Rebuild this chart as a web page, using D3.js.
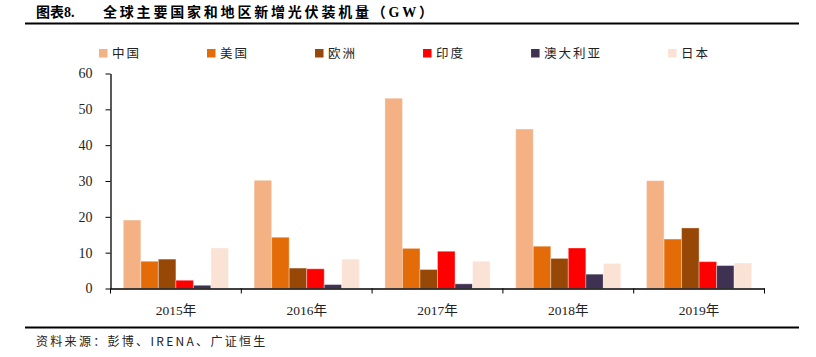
<!DOCTYPE html>
<html><head><meta charset="utf-8">
<script src="https://cdn.jsdelivr.net/npm/d3@7"></script>
<style>
html,body{margin:0;padding:0;background:#fff;}
svg{display:block;}
</style></head>
<body>
<svg id="chart" width="816" height="357"></svg>
<script>
const categories = ["2015年","2016年","2017年","2018年","2019年"];
const seriesNames = ["中国","美国","欧洲","印度","澳大利亚","日本"];
const china     = [19.1, 30.2, 53.1, 44.5, 30.1];
const usa       = [7.6, 14.3, 11.2, 11.8, 13.8];
const europe    = [8.2, 5.7, 5.3, 8.4, 16.9];
const india     = [2.3, 5.5, 10.4, 11.3, 7.5];
const australia = [0.9, 1.1, 1.3, 4.0, 6.4];
const japan     = [11.3, 8.2, 7.6, 7.0, 7.1];
const yTicks = [0,10,20,30,40,50,60];
const colors = ["#F4B183","#E36C09","#974806","#FF0000","#3F3151","#FAE3D5"];
const seriesValues = [china, usa, europe, india, australia, japan];

const svg = d3.select("#chart");
const cjk = "'Noto Sans CJK SC', sans-serif";
const serif = "'Liberation Serif', 'Times New Roman', serif";

// Title
const title = svg.append("text").attr("x",36).attr("y",17)
  .attr("font-family", "'Liberation Serif', 'Noto Sans CJK SC', serif")
  .attr("font-weight","bold").attr("font-size",14).attr("fill","#000");
title.append("tspan").text("图表8.");
title.append("tspan").attr("x",103).attr("letter-spacing",2.8).text("全球主要国家和地区新增光伏装机量（GW）");
svg.append("line").attr("x1",25).attr("x2",799).attr("y1",23.5).attr("y2",23.5)
  .attr("stroke","#000").attr("stroke-width",2);

// Scales
const x0 = d3.scaleBand().domain(categories).range([110.5,764.5]).paddingInner(0.196).paddingOuter(0.098);
const band = d3.scaleBand().domain(categories).range([110.5,764.5]);
const x1 = d3.scaleBand().domain(seriesNames).range([0, x0.bandwidth()]);
const y = d3.scaleLinear().domain([0,60]).range([288.5,73.5]);

// Bars
seriesNames.forEach((s,si)=>{
  svg.append("g").selectAll("rect").data(seriesValues[si]).join("rect")
    .attr("x",(d,i)=>x0(categories[i]) + x1(s))
    .attr("y",d=>y(d))
    .attr("width",x1.bandwidth())
    .attr("height",d=>y(0)-y(d))
    .attr("fill",colors[si])
    .attr("stroke","rgba(255,255,255,0.35)")
    .attr("stroke-width",1);
});

// Y axis
const yAxis = svg.append("g").attr("transform","translate(110.5,0)")
  .call(d3.axisLeft(y).tickValues(yTicks).tickSize(5).tickSizeOuter(0));
yAxis.select(".domain").attr("stroke","#000").attr("stroke-width",1.3);
yAxis.selectAll(".tick line").attr("stroke","#000");
yAxis.selectAll("text").attr("font-family",serif).attr("font-size",14).attr("fill","#222").attr("dx",-10);

// X axis
const xAxis = svg.append("g").attr("transform","translate(0,288.5)")
  .call(d3.axisBottom(band).tickSize(0).tickSizeOuter(0));
xAxis.select(".domain").attr("stroke","#000").attr("stroke-width",1.3);
xAxis.selectAll("text").attr("font-family","'Liberation Serif', 'Noto Sans CJK SC', serif")
  .attr("font-size",13.5).attr("fill","#222").attr("dy",0).attr("y",26);
// category boundary ticks
const bounds = categories.map(c=>band(c)).concat([band(categories[categories.length-1])+band.bandwidth()]);
svg.append("g").selectAll("line").data(bounds).join("line")
  .attr("x1",d=>d).attr("x2",d=>d).attr("y1",288.5).attr("y2",293.5)
  .attr("stroke","#000").attr("stroke-width",1);

// Legend
const leg = svg.append("g");
let lx = 99;
seriesNames.forEach((s,si)=>{
  leg.append("rect").attr("x",lx).attr("y",49).attr("width",8.5).attr("height",8.5).attr("fill",colors[si]);
  const t = leg.append("text").attr("x",lx+13).attr("y",58).text(s)
    .attr("font-family",cjk).attr("font-size",12.5).attr("letter-spacing",2).attr("fill","#222");
  const w = t.node().getComputedTextLength();
  lx = lx + 13 + w + 66;
});

// Bottom rule and source
svg.append("line").attr("x1",25).attr("x2",799).attr("y1",327.5).attr("y2",327.5)
  .attr("stroke","#000").attr("stroke-width",2);
svg.append("text").attr("x",36).attr("y",346).text("资料来源：彭博、IRENA、广证恒生")
  .attr("font-family",cjk).attr("font-size",12).attr("letter-spacing",2.3).attr("fill","#222");
</script>
</body></html>
